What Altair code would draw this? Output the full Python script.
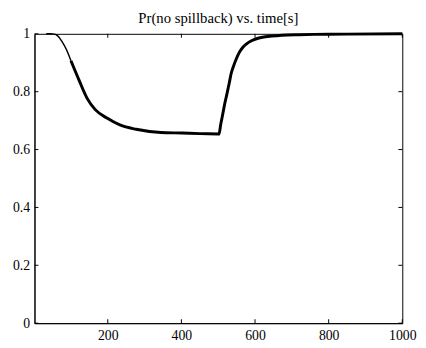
import altair as alt
import pandas as pd

# curve
t = [33, 45, 55, 64, 75, 88, 100, 122, 144, 166, 199, 233, 277, 344, 402, 450, 500,
     502, 507, 513, 518, 524, 530, 535, 542, 549, 557, 566, 577, 589, 604, 620, 645, 673, 720, 760, 850, 1000]
p = [1.0, 1.0, 0.999, 0.993, 0.975, 0.945, 0.907, 0.84, 0.777, 0.738, 0.708, 0.685, 0.670, 0.659, 0.657, 0.655, 0.654,
     0.653, 0.688, 0.727, 0.760, 0.794, 0.830, 0.862, 0.890, 0.913, 0.935, 0.952, 0.965, 0.975, 0.983, 0.988, 0.992, 0.995, 0.997, 0.998, 0.999, 1.0]
x_ticks = [200, 400, 600, 800, 1000]
y_ticks = [0, 0.2, 0.4, 0.6, 0.8, 1]
title_text = ["Pr(no spillback) vs. time[s]"]

df = pd.DataFrame({"t": t, "p": p})
W, H = 375, 295
FONT = "Liberation Serif"

xs = alt.Scale(domain=[1, 1000], nice=False)
ys = alt.Scale(domain=[0, 1], nice=False)

xax = alt.Axis(values=x_ticks, format="d", labelPadding=6)
yax = alt.Axis(values=y_ticks, format="~g", labelPadding=5)

base = alt.Chart(df)
thin = base.transform_filter("datum.t <= 100").mark_line(
    color="black", strokeWidth=1.5, interpolate="monotone").encode(
    x=alt.X("t:Q", scale=xs, title=None, axis=xax),
    y=alt.Y("p:Q", scale=ys, title=None, axis=yax),
)
thick = base.transform_filter("datum.t >= 100").mark_line(
    color="black", strokeWidth=3, interpolate="monotone").encode(
    x=alt.X("t:Q", scale=xs, title=None, axis=xax),
    y=alt.Y("p:Q", scale=ys, title=None, axis=yax))

xt = pd.DataFrame({"v": x_ticks})
yt = pd.DataFrame({"v": y_ticks})
xb = alt.Chart(xt).mark_rule(color="black", strokeWidth=1).encode(
    x=alt.X("v:Q", scale=xs), y=alt.value(H), y2=alt.value(H - 4))
xtop = alt.Chart(xt).mark_rule(color="black", strokeWidth=1).encode(
    x=alt.X("v:Q", scale=xs), y=alt.value(0), y2=alt.value(4))
yl = alt.Chart(yt).mark_rule(color="black", strokeWidth=1).encode(
    y=alt.Y("v:Q", scale=ys), x=alt.value(0), x2=alt.value(4))
yr = alt.Chart(yt).mark_rule(color="black", strokeWidth=1).encode(
    y=alt.Y("v:Q", scale=ys), x=alt.value(W), x2=alt.value(W - 4))

ttl = alt.Chart(pd.DataFrame({"s": title_text})).mark_text(
    font=FONT, fontSize=15, color="black", baseline="alphabetic", align="center"
).encode(text="s:N", x=alt.value(W / 2), y=alt.value(-11))

chart = alt.layer(thin, thick, xb, xtop, yl, yr, ttl).properties(
    width=W, height=H,
    background="white",
    autosize=alt.AutoSizeParams(type="none"),
    padding={"left": 27, "top": 23, "right": 16, "bottom": 22},
).configure_view(stroke="black", strokeWidth=1).configure_axis(
    tickSize=0, labelFont=FONT, labelFontSize=14, labelColor="black",
    domainColor="black", grid=False, labelFlush=False
)

chart.save("out.html", embed_options={"renderer": "svg", "actions": False})
